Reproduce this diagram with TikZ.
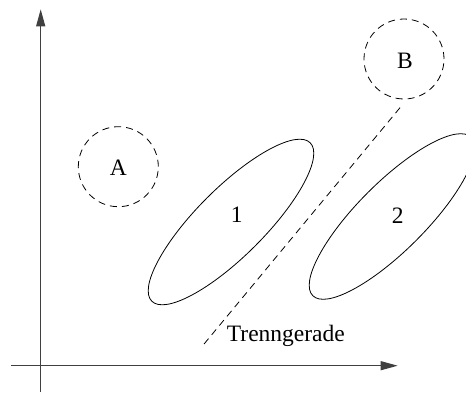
\documentclass[tikz,border=0pt]{standalone}
\usepackage{fontspec}
\setmainfont{Liberation Serif}
\usetikzlibrary{arrows.meta}
\begin{document}
\begin{tikzpicture}[x=1pt,y=1pt,
  axis/.style={line width=1.1pt,draw=black!75,-{Triangle[length=17pt,width=9pt]}},
  cluster/.style={line width=0.8pt},
  region/.style={draw,circle,line width=0.8pt,dash pattern=on 7pt off 5pt,minimum size=80pt,inner sep=0pt},
  sep/.style={line width=0.8pt,dash pattern=on 7pt off 5pt},
  lbl/.style={font=\fontsize{23.5}{28}\selectfont,inner sep=0pt}]
\useasboundingbox (0,0) rectangle (466,392);
% axes
\coordinate (xs) at (11,26.3);
\coordinate (xe) at (397.7,26.3);
\coordinate (ys) at (40.7,0);
\coordinate (ye) at (40.7,382.7);
\draw[axis] (xs) -- (xe);
\draw[axis] (ys) -- (ye);
% regions
\node[region] (A) at (118.3,225.3) {};
\node[region] (B) at (404,333) {};
\node[lbl] (la) at (118.3,224) {A};
\node[lbl] (lb) at (405,331) {B};
% clusters
\draw[cluster,rotate around={45:(231,170)}] (231,170) ellipse (112 and 34);
\draw[cluster,rotate around={45:(392,175.5)}] (392,175.5) ellipse (112 and 34);
\node[lbl] (l1) at (236.7,177) {1};
\node[lbl] (l2) at (397.7,176) {2};
% separating line
\coordinate (t1) at (400,284.3);
\coordinate (t2) at (201,44.3);
\draw[sep] (t1) -- (t2);
\node[lbl,anchor=base west] (tg) at (226.7,50.3) {Trenngerade};
\end{tikzpicture}
\end{document}
